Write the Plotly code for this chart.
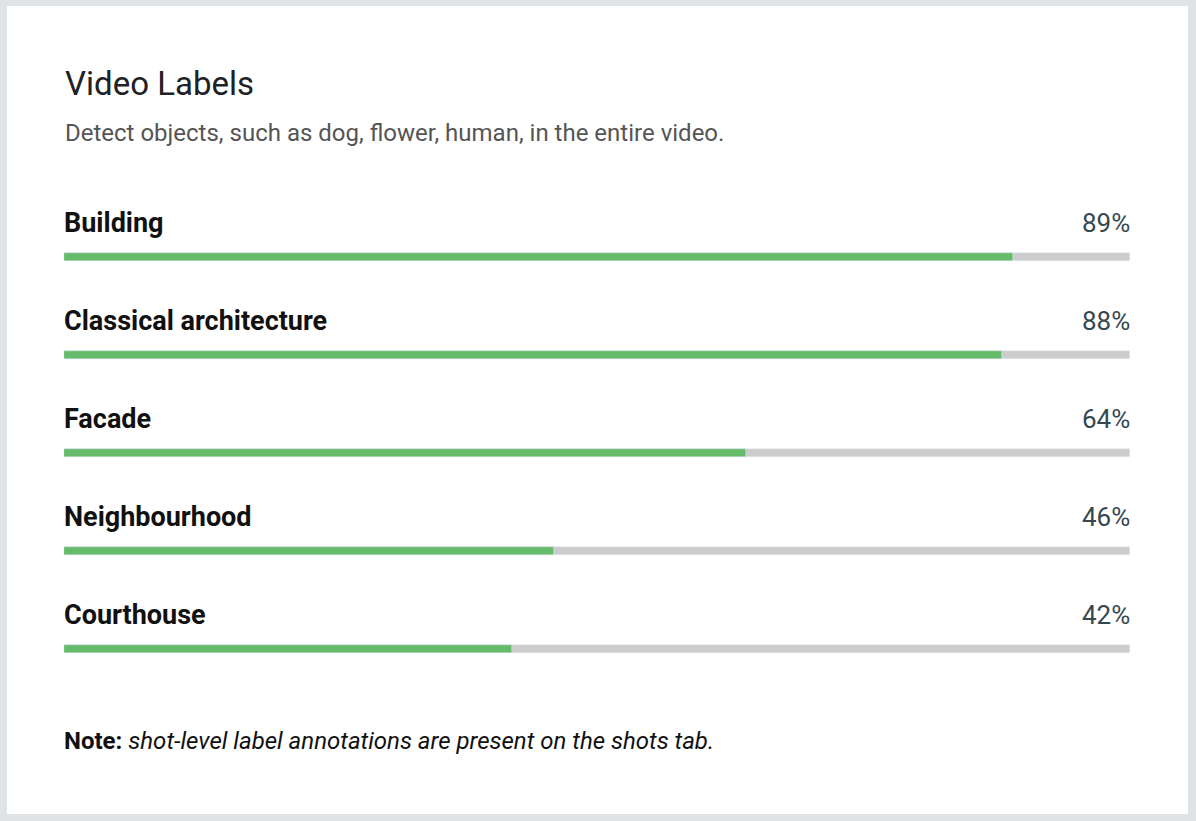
import plotly.graph_objects as go

labels = ["Building", "Classical architecture", "Facade", "Neighbourhood", "Courthouse"]
scores = [89, 88, 64, 46, 42]
full = [100] * len(labels)

green = "#66bb6a"
track = "#cccccc"

fig = go.Figure()
# grey track behind every bar
fig.add_trace(go.Bar(y=labels, x=full, orientation="h", marker_color=track,
                     width=0.072, hoverinfo="skip", showlegend=False))
fig.add_trace(go.Bar(y=labels, x=scores, orientation="h", marker_color=green,
                     width=0.072, hoverinfo="skip", showlegend=False))

# label above each bar, percentage on the right
for lab, val in zip(labels, scores):
    fig.add_annotation(x=0, xref="paper", y=lab, yref="y", yshift=34, xshift=-2,
                       text="<b>" + lab + "</b>", showarrow=False,
                       xanchor="left", yanchor="middle",
                       font=dict(family="Roboto", size=27, color="#111111"))
    fig.add_annotation(x=1, xref="paper", y=lab, yref="y", yshift=34, xshift=2,
                       text=f"{val}%", showarrow=False,
                       xanchor="right", yanchor="middle",
                       font=dict(family="Roboto", size=26, color="#37474f"))

fig.add_annotation(x=0, xref="paper", y=1.2531, yref="paper", text="Video Labels",
                   showarrow=False, xanchor="left", yanchor="middle", xshift=-1,
                   font=dict(family="Roboto", size=33, color="#202124"))
fig.add_annotation(x=0, xref="paper", y=1.1531, yref="paper",
                   text="Detect objects, such as dog, flower, human, in the entire video.",
                   showarrow=False, xanchor="left", yanchor="middle", xshift=-1,
                   font=dict(family="Roboto", size=24, color="#555555"))
fig.add_annotation(x=0, xref="paper", y=-0.0878, yref="paper",
                   text="<b>Note:</b> <i>shot-level label annotations are present on the shots tab.</i>",
                   showarrow=False, xanchor="left", yanchor="middle", xshift=-2,
                   font=dict(family="Roboto", size=24, color="#111111"))

# white card on grey page
fig.add_shape(type="rect", xref="paper", yref="paper",
              x0=-0.0535, x1=1.0544, y0=-0.2367, y1=1.4122,
              fillcolor="white", line_width=0, layer="below")

fig.update_layout(
    width=1196, height=821,
    margin=dict(l=64, r=66, t=208, b=123),
    paper_bgcolor="#dfe3e6", plot_bgcolor="rgba(0,0,0,0)",
    barmode="overlay", bargap=0,
    xaxis=dict(range=[0, 100], visible=False, fixedrange=True),
    yaxis=dict(range=[4.5, -0.5], visible=False, fixedrange=True),
)

fig.write_html("out.html", config={"displayModeBar": False},
               post_script="document.body.style.margin='0';document.body.style.overflow='hidden';")
